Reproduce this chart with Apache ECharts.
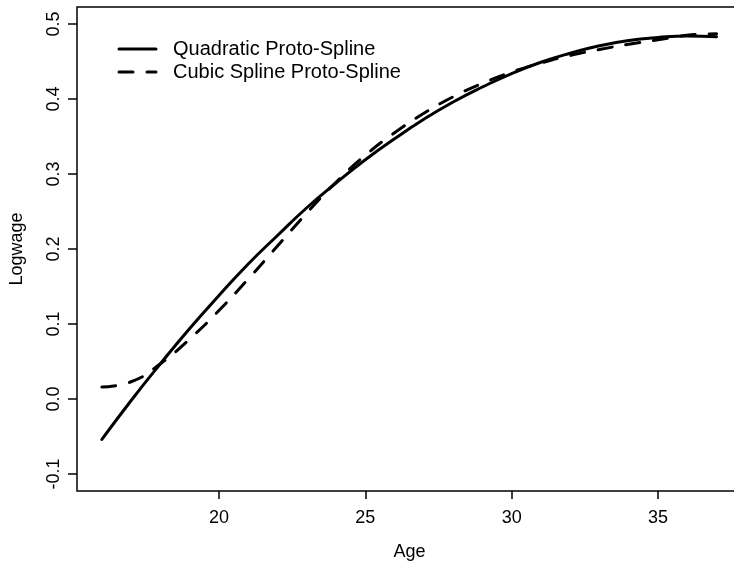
<!DOCTYPE html>
<html><head><meta charset="utf-8">
<script src="https://cdn.jsdelivr.net/npm/echarts@6/dist/echarts.min.js"></script>
<style>html,body{margin:0;padding:0;background:#fff}#c{width:734px;height:561px}</style>
</head><body><div id="c"></div>
<script>
var ages = [16,17,18,19,20,21,22,23,24,25,26,27,28,29,30,31,32,33,34,35,36,37];
var quadratic = [-0.054,-0.002,0.047,0.094,0.138,0.180,0.218,0.255,0.288,0.319,0.347,0.373,0.396,0.416,0.434,0.449,0.461,0.471,0.478,0.482,0.484,0.483];
var cubic = [0.016,0.023,0.047,0.080,0.118,0.160,0.204,0.248,0.289,0.325,0.355,0.381,0.403,0.421,0.436,0.448,0.458,0.466,0.473,0.479,0.485,0.487];
var xTicks = [20,25,30,35];
var yTicks = [-0.1,0.0,0.1,0.2,0.3,0.4,0.5];
var legendNames = ['Quadratic Proto-Spline','Cubic Spline Proto-Spline'];

var font = 'Liberation Sans, Arial, Helvetica, sans-serif';
function pairs(xs, ys){ return xs.map(function(x,i){return [x, ys[i]];}); }

var chart = echarts.init(document.getElementById('c'), null, {renderer:'canvas'});
chart.setOption({
  animation:false,
  backgroundColor:'#fff',
  grid:{left:77, top:7, width:665, bottom:70, show:true, borderColor:'#000', borderWidth:1.5, backgroundColor:'transparent', containLabel:false, outerBoundsMode:'none'},
  xAxis:{type:'value', min:15.15, max:37.87,
    name:'Age', nameLocation:'middle', nameGap:52,
    nameTextStyle:{fontFamily:font, fontSize:18, color:'#000'},
    axisLine:{show:false, onZero:false},
    axisTick:{show:true, inside:false, length:8, customValues:xTicks, lineStyle:{color:'#000', width:1.5}},
    axisLabel:{customValues:xTicks, fontFamily:font, fontSize:18, color:'#000', margin:18, formatter:function(v){return String(v);}},
    splitLine:{show:false}
  },
  yAxis:{type:'value', min:-0.1227, max:0.5227,
    name:'Logwage', nameLocation:'middle', nameGap:51, nameRotate:90,
    nameTextStyle:{fontFamily:font, fontSize:18, color:'#000'},
    axisLine:{show:false, onZero:false},
    axisTick:{show:true, inside:false, length:9, customValues:yTicks, lineStyle:{color:'#000', width:1.5}},
    axisLabel:{customValues:yTicks, rotate:90, fontFamily:font, fontSize:18, color:'#000', margin:14, formatter:function(v){return v.toFixed(1);}},
    splitLine:{show:false}
  },
  series:[
    {name:legendNames[0], type:'line', data:pairs(ages, quadratic), smooth:true, showSymbol:false, symbol:'none',
     lineStyle:{color:'#000', width:3, cap:'round', join:'round'}},
    {name:legendNames[1], type:'line', data:pairs(ages, cubic), smooth:true, showSymbol:false, symbol:'none',
     lineStyle:{color:'#000', width:3, type:[14,14], cap:'round', join:'round'}}
  ],
  graphic:[
    {type:'line', shape:{x1:119, y1:49, x2:156, y2:49}, style:{stroke:'#000', lineWidth:3, lineCap:'round'}},
    {type:'text', x:173, y:49, style:{text:legendNames[0], font:'20px '+font, fill:'#000', textVerticalAlign:'middle', verticalAlign:'middle'}},
    {type:'line', shape:{x1:119, y1:72, x2:156, y2:72}, style:{stroke:'#000', lineWidth:3, lineCap:'round', lineDash:[14,14]}},
    {type:'text', x:173, y:72, style:{text:legendNames[1], font:'20px '+font, fill:'#000', textVerticalAlign:'middle', verticalAlign:'middle'}}
  ]
});
</script></body></html>
